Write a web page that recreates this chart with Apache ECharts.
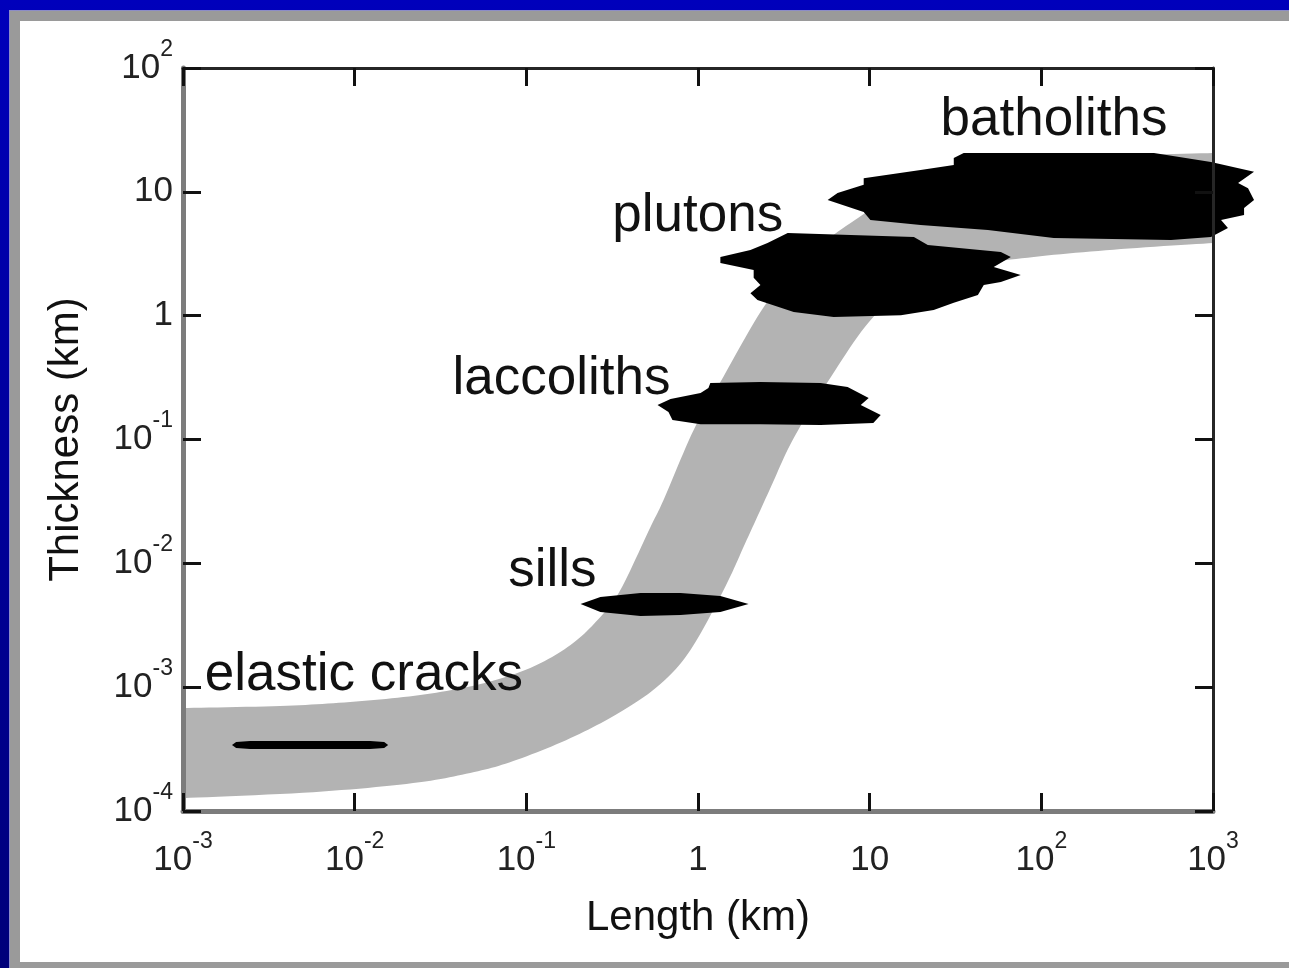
<!DOCTYPE html>
<html><head><meta charset="utf-8">
<script src="https://cdn.jsdelivr.net/npm/echarts@6/dist/echarts.min.js"></script>
<style>
html,body{margin:0;padding:0;width:1289px;height:968px;overflow:hidden;background:#fff}
#blue{position:absolute;left:0;top:0;width:1289px;height:968px;background:linear-gradient(to bottom,#0000bb,#00007a)}
#gray{position:absolute;left:9px;top:10px;width:1300px;height:970px;background:#9a9a9a;border-left:1px solid #8c8cc8;border-top:1px solid #8c8cc8}
#white{position:absolute;left:20px;top:21px;width:1280px;height:941px;background:#fff}
#chart{position:absolute;left:0;top:0;width:1289px;height:968px}
</style></head>
<body>
<div id="blue"></div><div id="gray"></div><div id="white"></div><div id="chart"></div>
<script>
// axis ranges / ticks (decades)
const xTickValues = [0.001, 0.01, 0.1, 1, 10, 100, 1000];
const yTickValues = [0.0001, 0.001, 0.01, 0.1, 1, 10, 100];

// grey band: upper (left) and lower (right) boundaries [length km, thickness km]
const bandUpper = [[0.001,6.79e-4],[0.00368,7.05e-4],[0.00942,7.59e-4],[0.0241,8.65e-4],[0.054,1.06e-3],[0.1054,1.43e-3],[0.181,2.19e-3],[0.270,3.69e-3],[0.353,6.09e-3],[0.528,0.0196],[0.630,0.0325],[0.942,0.119],[1.35,0.291],[2.41,1.17],[3.96,2.71],[7.74,5.60],[15.2,9.43],[58.1,15.6],[222,19.1],[1000,20.6]];
const bandLower = [[0.001,1.27e-4],[0.00573,1.42e-4],[0.0219,1.68e-4],[0.0471,2.03e-4],[0.084,2.53e-4],[0.181,3.88e-4],[0.353,6.30e-4],[0.604,1.06e-3],[0.904,2.0e-3],[1.41,6.09e-3],[1.92,0.0154],[2.61,0.0391],[3.56,0.099],[5.69,0.291],[10.5,0.975],[19.8,1.87],[38.8,2.52],[90.4,2.98],[291,3.45],[1000,3.86]];

// black blobs: outlines [length km, thickness km]
const elasticCracks = [[0.00193,3.41e-4],[0.00204,3.61e-4],[0.00246,3.67e-4],[0.0123,3.67e-4],[0.01486,3.61e-4],[0.01567,3.41e-4],[0.01486,3.23e-4],[0.0123,3.17e-4],[0.00246,3.17e-4],[0.00204,3.23e-4]];
const sills = [[0.207,4.70e-3],[0.270,5.35e-3],[0.462,5.75e-3],[0.791,5.75e-3],[1.35,5.45e-3],[1.97,4.70e-3],[1.35,4.05e-3],[0.791,3.83e-3],[0.462,3.76e-3],[0.270,4.05e-3]];
const laccoliths = [[1.18,0.286],[2.31,0.291],[5.18,0.286],[7.44,0.265],[9.87,0.216],[8.87,0.190],[11.6,0.158],[10.5,0.136],[5.18,0.131],[2.31,0.133],[1.035,0.133],[0.710,0.144],[0.673,0.167],[0.581,0.190],[0.692,0.212],[1.035,0.237],[1.15,0.261]];
const plutons = [[2.54,3.86],[3.33,4.65],[18.1,4.32],[21.8,3.72],[58.1,3.27],[66.4,2.98],[52.8,2.47],[75.9,2.13],[58.1,1.87],[46.2,1.77],[42.7,1.47],[30.9,1.27],[23.6,1.11],[15.2,1.01],[6.17,0.975],[3.61,1.07],[2.22,1.34],[2.02,1.52],[2.31,1.77],[2.11,2.02],[2.11,2.34],[1.35,2.66],[1.35,2.98],[2.02,3.39]];
const batholiths = [[30.9,18.8],[35.3,20.6],[453,20.6],[973,17.4],[1734,14.5],[1400,11.8],[1600,10.7],[1734,8.59],[1517,7.40],[1517,6.50],[1114,5.92],[1222,5.11],[973,4.32],[569,4.08],[118,4.24],[48.8,4.92],[19.8,5.40],[10.1,5.92],[9.23,6.87],[5.69,8.59],[6.50,9.79],[9.23,11.4],[9.23,12.9],[19.8,15.0],[30.9,16.5]];

// annotation labels
const annoNames = ['batholiths','plutons','laccoliths','sills','elastic cracks'];
const annoX = [25.9, 0.317, 0.0371, 0.0785, 0.00134];
const annoY = [38.0, 6.38, 0.308, 0.00867, 0.00125];

const FONT = 'Liberation Sans, Arial, Helvetica, sans-serif';

function fmt(v){
  const e = Math.round(Math.log10(v));
  if (e === 0) return '{b|1}';
  if (e === 1) return '{b|10}';
  return '{b|10}{s|' + e + '}';
}
const rich = {
  b:{fontSize:35, lineHeight:60, fontFamily:FONT, color:'#222', verticalAlign:'middle'},
  s:{fontSize:23, lineHeight:30, fontFamily:FONT, color:'#222', verticalAlign:'top'}
};

function spline(pts, steps){
  const out = [];
  for (let i = 0; i < pts.length - 1; i++) {
    const p0 = pts[Math.max(i-1,0)], p1 = pts[i], p2 = pts[i+1], p3 = pts[Math.min(i+2,pts.length-1)];
    for (let s = 0; s < steps; s++) {
      const t = s/steps, t2 = t*t, t3 = t2*t;
      out.push([0,1].map(k => 0.5*((2*p1[k]) + (-p0[k]+p2[k])*t + (2*p0[k]-5*p1[k]+4*p2[k]-p3[k])*t2 + (-p0[k]+3*p1[k]-3*p2[k]+p3[k])*t3)));
    }
  }
  out.push(pts[pts.length-1]);
  return out;
}

function blobSeries(name, outline, z){
  return {
    type:'custom', name, z, coordinateSystem:'cartesian2d', xAxisIndex:0, yAxisIndex:0,
    clip:false, silent:true, data: outline,
    renderItem:(params, api) => {
      if (params.dataIndex !== 0) return null;
      return {type:'polygon', shape:{points: outline.map(p => api.coord(p))}, style:{fill:'#000'}};
    }
  };
}

const axisCommon = {
  type:'log', logBase:10, z:5,
  splitLine:{show:false}, minorTick:{show:false}, minorSplitLine:{show:false},
  axisTick:{show:true, inside:true, length:18, lineStyle:{color:'#111', width:3}}
};

const chart = echarts.init(document.getElementById('chart'), null, {renderer:'canvas'});
chart.setOption({
  backgroundColor:'transparent',
  animation:false,
  grid:{left:183, top:68, right:76, bottom:157, containLabel:false},
  xAxis:[
    Object.assign({}, axisCommon, {
      min:xTickValues[0], max:xTickValues[xTickValues.length-1], position:'bottom',
      axisLine:{show:true, lineStyle:{color:'#7c7c7c', width:5}},
      axisLabel:{margin:19, formatter:fmt, rich:rich},
      name:'Length (km)', nameLocation:'middle', nameGap:86,
      nameTextStyle:{fontSize:42, fontFamily:FONT, color:'#111'}
    }),
    Object.assign({}, axisCommon, {
      min:xTickValues[0], max:xTickValues[xTickValues.length-1], position:'top',
      axisLine:{show:true, lineStyle:{color:'#262626', width:3}},
      axisLabel:{show:false}
    })
  ],
  yAxis:[
    Object.assign({}, axisCommon, {
      min:yTickValues[0], max:yTickValues[yTickValues.length-1], position:'left',
      axisLine:{show:true, lineStyle:{color:'#7c7c7c', width:5}},
      axisLabel:{margin:10, formatter:fmt, rich:rich},
      name:'Thickness (km)', nameLocation:'middle', nameGap:96,
      nameTextStyle:{fontSize:42, fontFamily:FONT, color:'#111'}
    }),
    Object.assign({}, axisCommon, {
      min:yTickValues[0], max:yTickValues[yTickValues.length-1], position:'right',
      axisLine:{show:true, lineStyle:{color:'#262626', width:3}},
      axisLabel:{show:false}
    })
  ],
  series:[
    {
      type:'custom', name:'band', z:1, coordinateSystem:'cartesian2d', xAxisIndex:0, yAxisIndex:0,
      silent:true, data: bandUpper.concat(bandLower),
      renderItem:(params, api) => {
        if (params.dataIndex !== 0) return null;
        const up = spline(bandUpper.map(p => api.coord(p)), 12);
        const lo = spline(bandLower.map(p => api.coord(p)), 12).reverse();
        return {type:'polygon', shape:{points: up.concat(lo)}, style:{fill:'#b3b3b3'}};
      }
    },
    blobSeries('elastic cracks', elasticCracks, 3),
    blobSeries('sills', sills, 3),
    blobSeries('laccoliths', laccoliths, 3),
    blobSeries('plutons', plutons, 3),
    blobSeries('batholiths', batholiths, 3),
    {
      type:'custom', name:'labels', z:4, coordinateSystem:'cartesian2d', xAxisIndex:0, yAxisIndex:0,
      clip:false, silent:true,
      data: annoNames.map((n,i) => [annoX[i], annoY[i]]),
      renderItem:(params, api) => {
        const p = api.coord([api.value(0), api.value(1)]);
        return {type:'text', x:p[0], y:p[1], style:{text: annoNames[params.dataIndex], fontSize:53, fontFamily:FONT, fill:'#111', align:'left', verticalAlign:'middle'}};
      }
    }
  ]
});
</script>
</body></html>
